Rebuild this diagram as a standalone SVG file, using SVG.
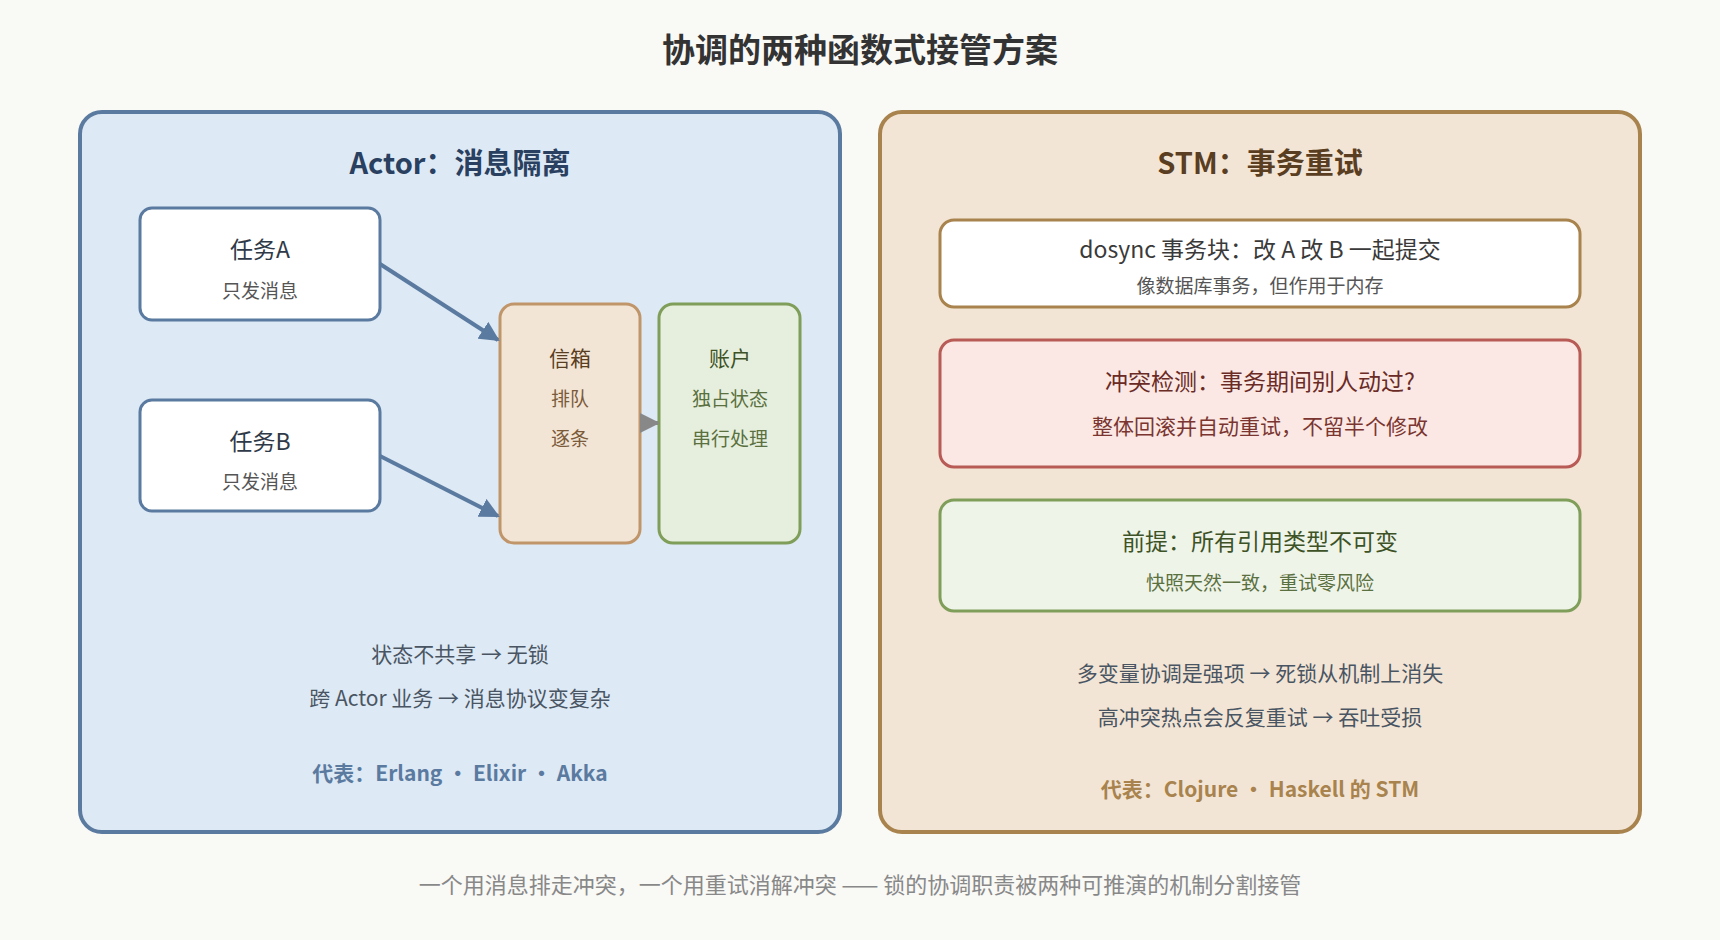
<svg xmlns="http://www.w3.org/2000/svg" width="1720" height="940" viewBox="0 0 1720 940">
<style>
text{font-family:"Noto Sans CJK SC","Noto Sans",sans-serif;text-anchor:middle;dominant-baseline:central}
.t{font-size:23px;fill:#2f3a48}
.s{font-size:19px;fill:#555}
.b{font-size:21px;fill:#4a5563}
.node{fill:#fff;stroke-width:3}
</style>
<defs>
<marker id="ab" viewBox="0 0 10 10" refX="9" refY="5" markerWidth="5" markerHeight="5" orient="auto"><path d="M0,0L10,5L0,10z" fill="#5b7aa0"/></marker>
<marker id="ag" viewBox="0 0 10 10" refX="9" refY="5" markerWidth="5" markerHeight="5" orient="auto"><path d="M0,0L10,5L0,10z" fill="#888"/></marker>
</defs>
<rect width="1720" height="940" fill="#f9f9f6"/>
<text x="860" y="48" style="font-size:33px;font-weight:bold;fill:#333">协调的两种函数式接管方案</text>
<g id="actor-panel">
<rect x="80" y="112" width="760" height="720" rx="22" fill="#dde9f4" stroke="#5b7aa0" stroke-width="4"/>
<text x="460" y="161" style="font-size:29px;font-weight:bold;fill:#2a4060">Actor：消息隔离</text>
<text x="460" y="653" class="b">状态不共享 → 无锁</text>
<text x="460" y="697" class="b">跨 Actor 业务 → 消息协议变复杂</text>
<text x="460" y="772" style="font-size:21px;font-weight:bold;fill:#5b7aa0">代表：Erlang • Elixir • Akka</text>
</g>
<g id="taskA"><rect x="140" y="208" width="240" height="112" rx="12" class="node" stroke="#5b7aa0"/><text x="260" y="248" class="t">任务A</text><text x="260" y="289" class="s">只发消息</text></g>
<g id="taskB"><rect x="140" y="400" width="240" height="111" rx="12" class="node" stroke="#5b7aa0"/><text x="260" y="440" class="t">任务B</text><text x="260" y="480" class="s">只发消息</text></g>
<g id="mailbox"><rect x="500" y="304" width="140" height="239" rx="14" fill="#f3e5d5" stroke="#c0956a" stroke-width="3"/><text x="570" y="357" class="t" style="font-size:21px;fill:#5a3e22">信箱</text><text x="570" y="397" class="s" style="fill:#7a5a3a">排队</text><text x="570" y="437" class="s" style="fill:#7a5a3a">逐条</text></g>
<g id="account"><rect x="659" y="304" width="141" height="239" rx="14" fill="#e6efdd" stroke="#7f9e5a" stroke-width="3"/><text x="730" y="357" class="t" style="font-size:21px;fill:#3d5226">账户</text><text x="730" y="397" class="s" style="fill:#5a7040">独占状态</text><text x="730" y="437" class="s" style="fill:#5a7040">串行处理</text></g>
<g id="stm-panel">
<rect x="880" y="112" width="760" height="720" rx="22" fill="#f3e5d5" stroke="#a8834e" stroke-width="4"/>
<text x="1260" y="161" style="font-size:29px;font-weight:bold;fill:#5a3e22">STM：事务重试</text>
<text x="1260" y="672" class="b">多变量协调是强项 → 死锁从机制上消失</text>
<text x="1260" y="716" class="b">高冲突热点会反复重试 → 吞吐受损</text>
<text x="1260" y="788" style="font-size:21px;font-weight:bold;fill:#a8834e">代表：Clojure • Haskell 的 STM</text>
</g>
<g id="dosync"><rect x="940" y="220" width="640" height="87" rx="14" class="node" stroke="#a8834e"/><text x="1260" y="248" class="t" style="fill:#3a3a3a">dosync 事务块：改 A 改 B 一起提交</text><text x="1260" y="284" class="s">像数据库事务，但作用于内存</text></g>
<g id="conflict"><rect x="940" y="340" width="640" height="127" rx="14" fill="#fbe8e4" stroke="#b85a55" stroke-width="3"/><text x="1260" y="380" class="t" style="fill:#6a2a25">冲突检测：事务期间别人动过?</text><text x="1260" y="425" class="b" style="fill:#7a3530">整体回滚并自动重试，不留半个修改</text></g>
<g id="premise"><rect x="940" y="500" width="640" height="111" rx="14" fill="#eff4e9" stroke="#7f9e5a" stroke-width="3"/><text x="1260" y="540" class="t" style="fill:#3d5226">前提：所有引用类型不可变</text><text x="1260" y="581" class="s" style="fill:#5a7040">快照天然一致，重试零风险</text></g>
<g id="connectors">
<line x1="380" y1="264" x2="498" y2="340" stroke="#5b7aa0" stroke-width="4" marker-end="url(#ab)"/>
<line x1="380" y1="456" x2="498" y2="516" stroke="#5b7aa0" stroke-width="4" marker-end="url(#ab)"/>
<line x1="640" y1="423" x2="658" y2="423" stroke="#888" stroke-width="4" marker-end="url(#ag)"/>
</g>
<text x="860" y="883" style="font-size:22px;fill:#888">一个用消息排走冲突，一个用重试消解冲突 —— 锁的协调职责被两种可推演的机制分割接管</text>
</svg>
